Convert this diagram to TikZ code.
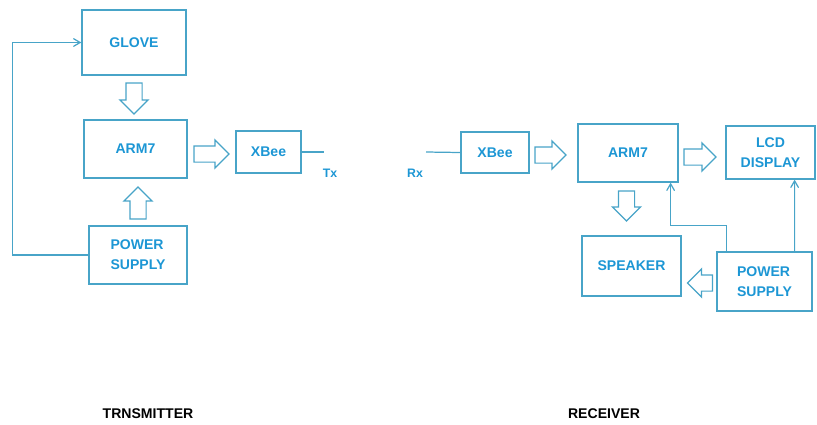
\documentclass[tikz,border=0pt]{standalone}
\usepackage{fontspec}
\setmainfont{Liberation Sans}
\usepackage{tikz}
\usetikzlibrary{shapes.arrows,arrows,calc}
\definecolor{testoblu}{RGB}{28,150,212}
\definecolor{lineablu}{RGB}{72,164,200}
\tikzstyle{bloccoblu} = [rectangle,draw=lineablu,line width=0.7pt,text=testoblu,align=center,inner sep=0pt,font=\bfseries\fontsize{8}{11.4}\selectfont]
\tikzstyle{frecciavuota} = [single arrow,draw=lineablu,line width=0.7pt,fill=white,inner xsep=0pt,inner ysep=0.15cm,single arrow head extend=0.12cm,single arrow tip angle=90]
\tikzstyle{lineablu} = [draw=lineablu,line width=0.7pt,->,>=angle 60]
\tikzstyle{titolo} = [text=black,font=\bfseries\fontsize{8}{10}\selectfont]
\tikzstyle{segnale} = [text=testoblu,font=\bfseries\fontsize{7}{9}\selectfont]

\begin{document}
\begin{tikzpicture}[x=0.02cm,y=-0.02cm]
\useasboundingbox (0,0) rectangle (817,424);

% trasmettitore
\node (T_G) [bloccoblu,minimum width=2.08cm,minimum height=1.3cm] at (134,42.5) {GLOVE};
\node (T_A) [bloccoblu,minimum width=2.06cm,minimum height=1.16cm] at (135.5,149) {ARM7};
\node (T_X) [bloccoblu,minimum width=1.3cm,minimum height=0.84cm] at (268.5,152) {XBee};
\node (T_P) [bloccoblu,minimum width=1.96cm,minimum height=1.16cm,align=left] at (138,255) {POWER\\SUPPLY};

\node (T_F1) [frecciavuota,rotate=-90,minimum height=0.62cm] at (134,94.5) {};
\node (T_F2) [frecciavuota,minimum height=0.7cm] at (207.5,154) {};
\node (T_F3) [frecciavuota,rotate=90,minimum height=0.64cm] at (138,207) {};

\coordinate (TxFine) at (324,152);
\node (Tx) [segnale] at (330,173) {Tx};

% ricevitore
\node (R_X) [bloccoblu,minimum width=1.36cm,minimum height=0.82cm] at (495,152.5) {XBee};
\node (R_A) [bloccoblu,minimum width=2.0cm,minimum height=1.16cm] at (628,153) {ARM7};
\node (R_L) [bloccoblu,minimum width=1.78cm,minimum height=1.06cm] at (770.5,152.5) {LCD\\DISPLAY};
\node (R_S) [bloccoblu,minimum width=1.98cm,minimum height=1.2cm] at (631.5,266) {SPEAKER};
\node (R_P) [bloccoblu,minimum width=1.9cm,minimum height=1.18cm,align=left] at (764.5,281.5) {POWER\\SUPPLY};

\node (R_F1) [frecciavuota,minimum height=0.62cm] at (546.5,155) {};
\node (R_F2) [frecciavuota,minimum height=0.64cm] at (696,157) {};
\node (R_F3) [frecciavuota,rotate=-90,minimum height=0.6cm] at (626.5,202) {};
\node (R_F4) [frecciavuota,rotate=180,minimum height=0.5cm] at (704,283) {};

\coordinate (RxInizio) at (426,152);
\node (Rx) [segnale] at (415,173) {Rx};

\node (TRN) [titolo] at (148,414) {TRNSMITTER};
\node (REC) [titolo] at (604,414) {RECEIVER};

% collegamenti
\draw[lineablu] (T_P.west) -- ++(-76,0) |- (T_G.west);
\draw[lineablu,-] (T_X.east) -- (TxFine);
\draw[lineablu,-] (RxInizio) -- (R_X.west);
\draw[lineablu] ($(R_P.north west)+(10,0)$) |- ($(R_A.south east)+(-8,43)$) -- ($(R_A.south east)+(-8,0)$);
\draw[lineablu] ($(R_P.north east)+(-18,0)$) -- ($(R_L.south east)+(-21,0)$);

\end{tikzpicture}
\end{document}
